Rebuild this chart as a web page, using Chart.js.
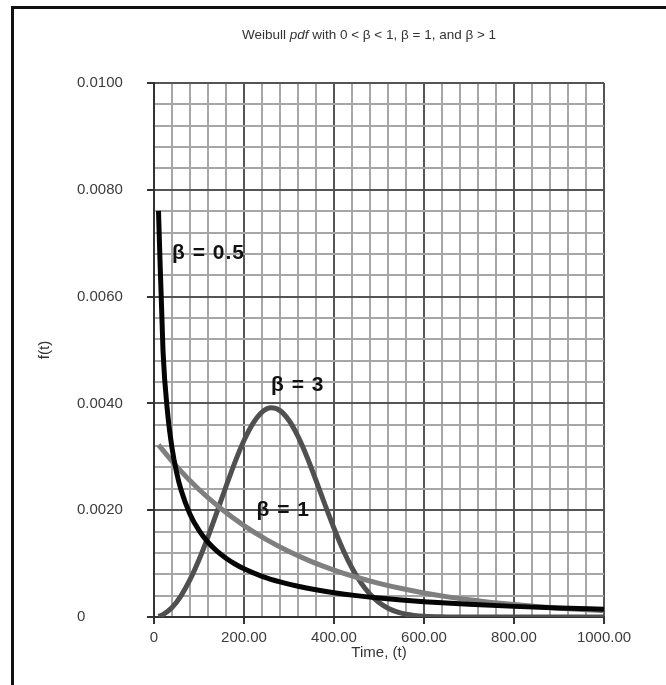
<!DOCTYPE html>
<html>
<head>
<meta charset="utf-8">
<script src="https://cdn.jsdelivr.net/npm/chart.js@4.4.1/dist/chart.umd.min.js"></script>
<style>
  html, body { margin: 0; padding: 0; background: #fff; }
  #wrap { width: 666px; height: 685px; }
</style>
</head>
<body>
<div id="wrap"><canvas id="chart" width="666" height="685"></canvas></div>
<script>
// Weibull pdf, eta ~ 300, three shape values

const xTickLabels = ['0', '200.00', '400.00', '600.00', '800.00', '1000.00'];
const yTickLabels = ['0', '0.0020', '0.0040', '0.0060', '0.0080', '0.0100'];

// beta = 0.5
const tHalf = [10, 20, 30, 40, 50, 60, 80, 100, 120, 140, 160, 180, 200, 240, 280, 320, 360, 400, 450, 500, 550, 600, 700, 800, 900, 1000];
const fHalf = [0.007605, 0.004986, 0.003842, 0.003168, 0.002714, 0.002383, 0.001926, 0.001621, 0.001400, 0.001232, 0.001100, 0.000992, 0.000902, 0.000762, 0.000657, 0.000575, 0.000509, 0.000455, 0.000400, 0.000355, 0.000318, 0.000287, 0.000237, 0.000199, 0.000170, 0.000147];

// beta = 1
const tOne = [10, 50, 100, 150, 200, 250, 300, 350, 400, 450, 500, 550, 600, 650, 700, 750, 800, 850, 900, 950, 1000];
const fOne = [0.003224, 0.002822, 0.002388, 0.002022, 0.001711, 0.001449, 0.001226, 0.001038, 0.000879, 0.000744, 0.000630, 0.000533, 0.000451, 0.000382, 0.000323, 0.000274, 0.000232, 0.000196, 0.000166, 0.000140, 0.000119];

// beta = 3
const tThree = [10, 20, 40, 60, 80, 100, 120, 140, 160, 180, 200, 220, 240, 260, 280, 300, 320, 340, 360, 380, 400, 420, 440, 460, 480, 500, 520, 540, 560, 600, 650, 700, 800, 900, 1000];
const fThree = [0.0000111, 0.0000444, 0.000177, 0.000397, 0.000698, 0.001071, 0.001501, 0.001967, 0.002444, 0.002901, 0.003305, 0.003625, 0.003836, 0.003917, 0.003864, 0.003679, 0.003381, 0.002996, 0.002558, 0.002102, 0.001661, 0.001260, 0.000917, 0.000639, 0.000426, 0.000271, 0.000165, 0.000095, 0.000052, 0.000013, 0.000002, 0, 0, 0, 0];

// curve labels, placed in data units (left edge, vertical middle)
const curveLabels = ['β = 0.5', 'β = 3', 'β = 1'];
const labelT = [40, 260, 228];
const labelF = [0.00682, 0.00434, 0.00200];

const FONT = "'Liberation Sans', Arial, sans-serif";

function toPoints(ts, fs) {
    return ts.map((t, i) => ({ x: t, y: fs[i] }));
}

const decor = {
    id: 'decor',
    beforeDraw(chart) {
        const c = chart.ctx;
        c.save();
        c.fillStyle = '#fff';
        c.fillRect(0, 0, chart.width, chart.height);
        // frame (only top and left visible in the reference)
        c.fillStyle = '#111';
        c.fillRect(11, 6, chart.width - 11, 3);
        c.fillRect(11, 6, 3, chart.height - 6);
        c.restore();
    },
    afterDatasetsDraw(chart) {
        const c = chart.ctx;
        const xs = chart.scales.x, ys = chart.scales.y;
        c.save();
        c.font = 'bold 21px ' + FONT;
        c.fillStyle = '#111';
        c.textAlign = 'left';
        c.textBaseline = 'middle';
        c.letterSpacing = '1px';
        curveLabels.forEach((txt, i) => {
            c.fillText(txt, xs.getPixelForValue(labelT[i]), ys.getPixelForValue(labelF[i]));
        });
        c.restore();
    },
    afterDraw(chart) {
        const c = chart.ctx;
        const area = chart.chartArea;
        c.save();
        // main title with italic "pdf"
        const parts = [
            ['Weibull ', 'normal'],
            ['pdf', 'italic'],
            [' with 0 < β < 1, β = 1, and β > 1', 'normal']
        ];
        let total = 0;
        parts.forEach(p => { c.font = p[1] + ' 13.5px ' + FONT; total += c.measureText(p[0]).width; });
        let x = 369 - total / 2;
        c.fillStyle = '#333';
        c.textBaseline = 'middle';
        c.textAlign = 'left';
        parts.forEach(p => {
            c.font = p[1] + ' 13.5px ' + FONT;
            c.fillText(p[0], x, 35);
            x += c.measureText(p[0]).width;
        });
        // y axis title
        c.font = '15px ' + FONT;
        c.translate(45, (area.top + area.bottom) / 2);
        c.rotate(-Math.PI / 2);
        c.textAlign = 'center';
        c.fillText('f(t)', 0, 0);
        c.restore();
    }
};

const isMajorX = v => Math.round(v / 40) % 5 === 0;
const isMajorY = v => Math.round(v / 0.0004) % 5 === 0;

new Chart(document.getElementById('chart'), {
    type: 'line',
    data: {
        datasets: [
            { label: 'β = 0.5', data: toPoints(tHalf, fHalf), borderColor: '#050505', borderWidth: 5 },
            { label: 'β = 1', data: toPoints(tOne, fOne), borderColor: '#7f7f7f', borderWidth: 5 },
            { label: 'β = 3', data: toPoints(tThree, fThree), borderColor: '#505050', borderWidth: 5 }
        ]
    },
    options: {
        responsive: false,
        animation: false,
        devicePixelRatio: 1,
        layout: { padding: { left: 77, top: 83, right: 62, bottom: 0 } },
        elements: {
            point: { radius: 0 },
            line: { cubicInterpolationMode: 'monotone', borderCapStyle: 'butt', fill: false }
        },
        plugins: {
            legend: { display: false },
            title: { display: false },
            tooltip: { enabled: false }
        },
        scales: {
            x: {
                type: 'linear',
                min: 0,
                max: 1000,
                afterFit(scale) { scale.height = 68; },
                border: { color: '#333', width: 2 },
                grid: {
                    color: ctx => isMajorX(ctx.tick.value) ? '#555' : '#a6a6a6',
                    tickColor: ctx => isMajorX(ctx.tick.value) ? '#333' : 'rgba(0,0,0,0)',
                    lineWidth: 2,
                    tickLength: 7
                },
                ticks: {
                    stepSize: 40,
                    autoSkip: false,
                    maxRotation: 0,
                    padding: 5,
                    color: '#3c3c3c',
                    font: { family: FONT, size: 15 },
                    callback: v => isMajorX(v) ? xTickLabels[Math.round(v / 200)] : ''
                },
                title: {
                    display: true,
                    text: 'Time, (t)',
                    color: '#333',
                    font: { family: FONT, size: 15 },
                    padding: { top: 0, bottom: 23 }
                }
            },
            y: {
                type: 'linear',
                min: 0,
                max: 0.01,
                afterFit(scale) { scale.width = 77; },
                border: { color: '#333', width: 2 },
                grid: {
                    color: ctx => isMajorY(ctx.tick.value) ? '#555' : '#a6a6a6',
                    tickColor: ctx => isMajorY(ctx.tick.value) ? '#333' : 'rgba(0,0,0,0)',
                    lineWidth: 2,
                    tickLength: 7
                },
                ticks: {
                    stepSize: 0.0004,
                    autoSkip: false,
                    crossAlign: 'far',
                    color: '#3c3c3c',
                    font: { family: FONT, size: 15 },
                    callback: v => isMajorY(v) ? yTickLabels[Math.round(v / 0.002)] : ''
                }
            }
        }
    },
    plugins: [decor]
});
</script>
</body>
</html>
